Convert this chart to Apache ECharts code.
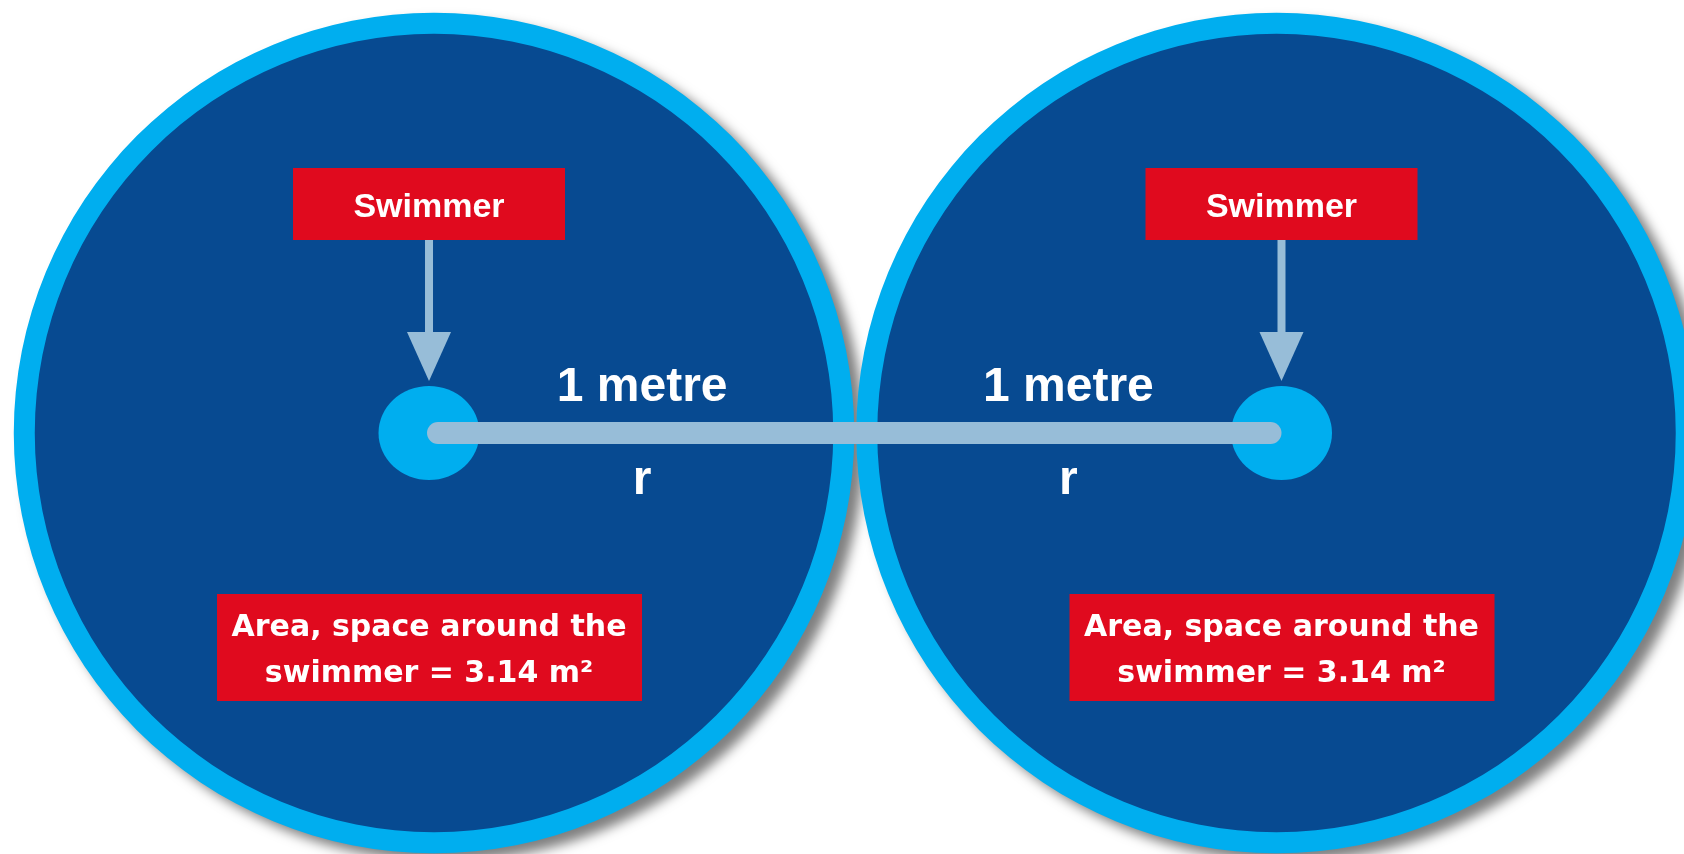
<!DOCTYPE html>
<html>
<head>
<meta charset="utf-8">
<title>Space around the swimmer</title>
<script src="https://cdn.jsdelivr.net/npm/echarts@6/dist/echarts.min.js"></script>
<style>
  html, body { margin: 0; padding: 0; background: #ffffff; }
  #chart { width: 1684px; height: 854px; }
</style>
</head>
<body>
<div id="chart"></div>
<script>
// two swimmers, each with 1 metre of space around them (units: metres)
var swimmerNames = ['Swimmer', 'Swimmer'];
var swimmerX = [-1, 1];
var swimmerY = [0, 0];
var spaceRadius = [1, 1];
var radiusLabels = ['1 metre', '1 metre'];
var radiusSymbols = ['r', 'r'];
var areaValues = [3.14, 3.14];

var DARK = '#074A91', RING = '#00AEEF', PALE = '#97BDD8', RED = '#E00A1E';
var midX = (swimmerX[0] + swimmerX[1]) / 2;

var points = swimmerX.map(function (x, i) { return [x, swimmerY[i], spaceRadius[i]]; });

var chart = echarts.init(document.getElementById('chart'));

// big circle: light ring (with drop shadow) and dark inner disc
// drawn a touch inside the radius and nudged inward so the two rings just touch
function circleItem(params, api) {
  var i = params.dataIndex;
  var c = api.coord([api.value(0), api.value(1)]);
  var r = api.size([api.value(2), 0])[0] - 6;
  var dir = swimmerX[i] < midX ? 1 : -1;
  var cx = c[0] + dir * 5;
  return {
    type: 'group',
    children: [
      { type: 'circle', shape: { cx: cx, cy: c[1], r: r },
        style: { fill: RING, shadowBlur: 12, shadowOffsetX: 10, shadowOffsetY: 8, shadowColor: 'rgba(0,0,0,0.5)' } },
      { type: 'circle', shape: { cx: cx, cy: c[1], r: r - 21 }, style: { fill: DARK } }
    ]
  };
}

// the radius bar joining both swimmers
function barItem(params, api) {
  var a = api.coord([api.value(0), api.value(1)]);
  var b = api.coord([api.value(2), api.value(3)]);
  return {
    type: 'line',
    shape: { x1: a[0] + 9, y1: a[1], x2: b[0] - 11, y2: b[1] },
    style: { stroke: PALE, lineWidth: 22, lineCap: 'round' }
  };
}

// tags, arrows and texts around one swimmer
function labelItem(params, api) {
  var i = params.dataIndex;
  var c = api.coord([api.value(0), api.value(1)]);
  var r = api.size([api.value(2), 0])[0];
  var dir = swimmerX[i] < midX ? 1 : -1;
  var mx = c[0] + dir * r / 2;
  var white = '#ffffff';
  return {
    type: 'group',
    children: [
      { type: 'rect', shape: { x: c[0] - 136, y: c[1] - 265, width: 272, height: 72 }, style: { fill: RED } },
      { type: 'text', style: { text: swimmerNames[i], x: c[0], y: c[1] - 225, fill: white,
          font: 'bold 34px "Liberation Sans", Arial, sans-serif', align: 'center', verticalAlign: 'middle' } },
      { type: 'rect', shape: { x: c[0] - 4, y: c[1] - 193, width: 8, height: 93 }, style: { fill: PALE } },
      { type: 'polygon', shape: { points: [[c[0] - 22, c[1] - 101], [c[0] + 22, c[1] - 101], [c[0], c[1] - 52]] },
        style: { fill: PALE } },
      { type: 'text', style: { text: radiusLabels[i], x: mx, y: c[1] - 45, fill: white,
          font: 'bold 48px "Liberation Sans", Arial, sans-serif', align: 'center', verticalAlign: 'middle' } },
      { type: 'text', style: { text: radiusSymbols[i], x: mx, y: c[1] + 48, fill: white,
          font: 'bold 48px "Liberation Sans", Arial, sans-serif', align: 'center', verticalAlign: 'middle' } },
      { type: 'rect', shape: { x: c[0] - 212, y: c[1] + 161, width: 425, height: 107 }, style: { fill: RED } },
      { type: 'text', style: {
          text: 'Area, space around the\nswimmer = ' + areaValues[i].toFixed(2) + ' m²',
          x: c[0], y: c[1] + 218, fill: white, lineHeight: 46,
          font: 'bold 30px "DejaVu Sans", sans-serif', align: 'center', verticalAlign: 'middle' } }
    ]
  };
}

chart.setOption({
  animation: false,
  backgroundColor: '#ffffff',
  grid: { left: 0, right: 0, top: 0, bottom: 0 },
  xAxis: { type: 'value', min: -2.0065, max: 1.9443, show: false },
  yAxis: { type: 'value', min: -0.9877, max: 1.0158, show: false },
  series: [
    {
      type: 'custom',
      name: 'space',
      renderItem: circleItem,
      data: points,
      z: 1
    },
    {
      type: 'scatter',
      name: 'swimmer',
      symbol: 'circle',
      symbolSize: [101, 94],
      itemStyle: { color: RING, opacity: 1 },
      data: points.map(function (p) { return [p[0], p[1]]; }),
      z: 2
    },
    {
      type: 'custom',
      name: 'radius',
      renderItem: barItem,
      data: [[swimmerX[0], swimmerY[0], swimmerX[1], swimmerY[1]]],
      z: 3
    },
    {
      type: 'custom',
      name: 'labels',
      renderItem: labelItem,
      data: points,
      z: 4
    }
  ]
});
</script>
</body>
</html>
